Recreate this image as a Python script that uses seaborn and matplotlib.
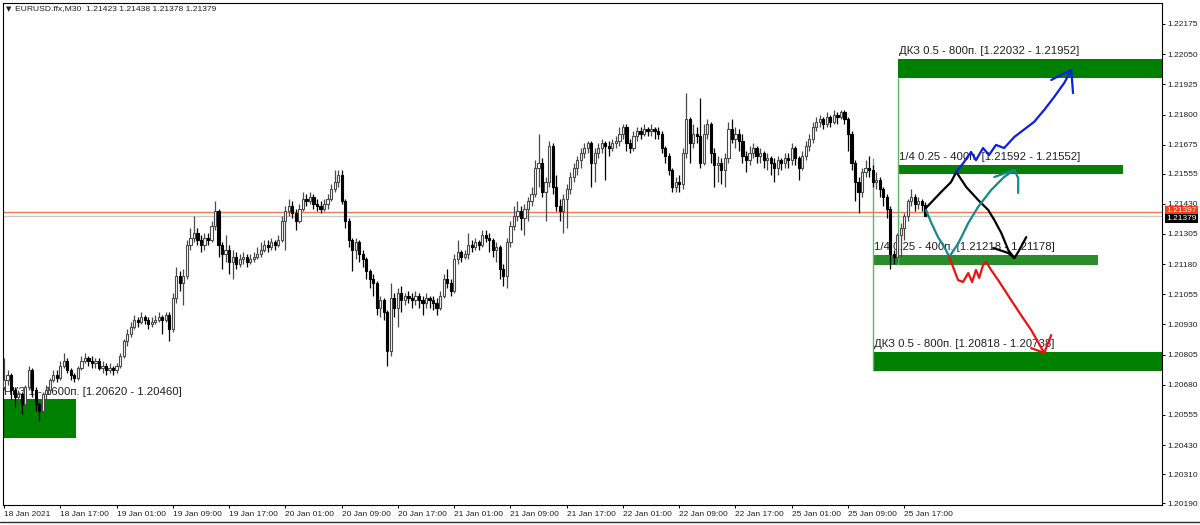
import matplotlib
matplotlib.use("Agg")
import numpy as np
import pandas as pd
import seaborn as sns
import matplotlib.pyplot as plt
from matplotlib.patches import Rectangle

# prices are kept in pips above 1.20000
BASE = 1.2
PIP = 0.0001

open_first = 67
close_pips = [
    70, 72, 66, 63, 64, 60, 67, 74, 66, 60,
    57, 64, 66, 70, 72, 71, 76, 78, 74, 72,
    71, 75, 78, 79, 78, 77, 78, 75, 76, 74,
    75, 74, 76, 80, 86, 89, 92, 95, 94, 96,
    95, 93, 94, 95, 96, 95, 97, 91, 104, 113,
    110, 113, 126, 129, 131, 128, 126, 129, 128, 134,
    140, 126, 122, 124, 119, 121, 118, 120, 121, 119,
    120, 121, 122, 124, 126, 125, 127, 126, 128, 136,
    140, 142, 139, 136, 141, 145, 144, 146, 143, 142,
    141, 143, 145, 149, 152, 155, 144, 136, 128, 124,
    127, 122, 120, 115, 112, 110, 100, 103, 98, 82,
    104, 100, 106, 103, 105, 104, 103, 105, 103, 102,
    104, 103, 102, 100, 105, 112, 110, 107, 120, 123,
    121, 122, 126, 125, 127, 126, 130, 129, 128, 124,
    125, 116, 113, 127, 134, 138, 140, 137, 141, 144,
    147, 158, 160, 148, 152, 167, 150, 142, 140, 145,
    149, 154, 158, 161, 164, 166, 168, 160, 164, 166,
    168, 167, 166, 168, 169, 172, 175, 168, 166, 171,
    173, 172, 174, 173, 174, 173, 172, 166, 163, 157,
    150, 152, 151, 164, 178, 168, 172, 171, 160, 172,
    176, 164, 159, 160, 157, 162, 174, 170, 172, 169,
    163, 161, 164, 166, 163, 164, 161, 162, 160, 158,
    161, 160, 162, 161, 166, 162, 158, 163, 167, 170,
    175, 177, 178, 176, 179, 177, 180, 179, 181, 178,
    172, 160, 152, 148, 156, 158, 157, 152, 153, 149,
    146, 141, 122, 121, 130, 133, 138, 144, 146, 143,
    144, 142.3, 137.9,
]
high_pips = [
    79, 74, 73, 67, 66, 65, 68, 76, 75, 67,
    61, 65, 68, 71, 74, 74, 78, 81, 79, 75,
    73, 76, 80, 81, 80, 80, 79, 79, 78, 77,
    77, 76, 77, 81, 87, 91, 94, 97, 96, 98,
    97, 96, 96, 97, 98, 97, 98, 98, 106, 117,
    115, 116, 128, 133, 138, 133, 130, 131, 131, 136,
    144, 141, 127, 130, 126, 124, 123, 122, 123, 122,
    122, 123, 125, 127, 128, 128, 129, 128, 130, 138,
    142, 145, 144, 141, 143, 148, 147, 148, 147, 145,
    144, 145, 147, 151, 157, 157, 157, 145, 137, 129,
    129, 128, 124, 121, 116, 114, 111, 105, 104, 99,
    110, 106, 108, 109, 106, 107, 106, 107, 106, 105,
    106, 105, 105, 104, 107, 114, 116, 112, 122, 128,
    124, 124, 131, 128, 129, 128, 132, 132, 131, 129,
    127, 126, 118, 129, 136, 142, 144, 142, 143, 146,
    150, 161, 172, 162, 154, 169, 168, 155, 145, 147,
    151, 156, 160, 163, 166, 168, 169, 169, 166, 168,
    170, 169, 169, 170, 171, 175, 176, 176, 170, 173,
    175, 175, 176, 175, 176, 175, 175, 173, 167, 164,
    158, 154, 155, 166, 189, 179, 176, 175, 187, 176,
    178, 177, 166, 163, 162, 164, 177, 178, 175, 174,
    172, 165, 167, 168, 167, 166, 165, 164, 163, 162,
    163, 162, 164, 164, 168, 167, 163, 165, 169, 172,
    177, 179, 180, 179, 181, 180, 182, 181, 182, 182,
    179, 173, 161, 154, 158, 161, 163, 159, 156, 154,
    150, 147, 142, 124, 131, 135, 139, 145, 149, 147,
    146, 145, 143.8,
]
low_pips = [
    66, 68, 62, 59, 61, 56, 59, 66, 63, 57,
    53, 55, 62, 64, 69, 69, 70, 75, 73, 70,
    69, 70, 74, 77, 76, 75, 75, 74, 73, 72,
    73, 72, 73, 75, 79, 84, 88, 91, 92, 93,
    93, 91, 92, 93, 94, 89, 94, 86, 90, 102,
    107, 101, 112, 124, 127, 126, 123, 124, 126, 127,
    132, 121, 116, 119, 114, 112, 116, 117, 118, 117,
    118, 119, 120, 121, 123, 123, 124, 124, 125, 127,
    124, 138, 137, 132, 135, 140, 142, 143, 141, 140,
    139, 140, 141, 144, 148, 150, 143, 133, 125, 115,
    120, 119, 117, 112, 108, 105, 97, 96, 95, 76,
    80, 96, 92, 98, 101, 102, 100, 101, 100, 97,
    100, 100, 99, 97, 99, 104, 108, 105, 106, 118,
    119, 120, 120, 123, 124, 124, 125, 127, 123, 121,
    119, 112, 109, 108, 125, 132, 136, 132, 130, 136,
    142, 146, 150, 146, 136, 150, 147, 140, 136, 131,
    133, 147, 152, 155, 158, 162, 164, 150, 152, 162,
    164, 153, 163, 165, 166, 167, 170, 165, 164, 165,
    169, 170, 171, 171, 171, 170, 170, 164, 160, 155,
    148, 148, 148, 149, 162, 160, 166, 168, 158, 159,
    170, 160, 150, 152, 151, 150, 160, 168, 166, 165,
    160, 156, 159, 162, 160, 160, 158, 157, 155, 152,
    155, 157, 158, 158, 159, 159, 153, 157, 161, 165,
    168, 173, 175, 174, 175, 175, 176, 176, 178, 176,
    165, 157, 144, 139, 146, 154, 154, 150, 149, 146,
    142, 137, 116, 118, 119, 121, 128, 136, 142, 140,
    141, 140, 137.8,
]

time_labels = [
    "18 Jan 2021", "18 Jan 17:00", "19 Jan 01:00", "19 Jan 09:00", "19 Jan 17:00",
    "20 Jan 01:00", "20 Jan 09:00", "20 Jan 17:00", "21 Jan 01:00", "21 Jan 09:00",
    "21 Jan 17:00", "22 Jan 01:00", "22 Jan 09:00", "22 Jan 17:00", "25 Jan 01:00",
    "25 Jan 09:00", "25 Jan 17:00",
]
bars_per_label = 16

price_ticks = [1.22175, 1.22050, 1.21925, 1.21800, 1.21675, 1.21555, 1.21430, 1.21305,
               1.21180, 1.21055, 1.20930, 1.20805, 1.20680, 1.20555, 1.20430, 1.20310,
               1.20190]

# zones drawn on the chart (left/right in bar numbers)
zone_text = ["НКЗ 1 - 1600п.", "ДКЗ 0.5 - 800п.", "1/4 0.25 - 400п.",
             "1/4 0.25 - 400п.", "ДКЗ 0.5 - 800п."]
zone_top = [1.20620, 1.22032, 1.21592, 1.21218, 1.20818]
zone_bottom = [1.20460, 1.21952, 1.21552, 1.21178, 1.20738]
zone_left = [-1.0, 254.3, 254.3, 247.2, 247.2]
zone_right = [20.5, 340.0, 318.3, 311.2, 340.0]
zone_colors = ["#008000", "#008000", "#087f08", "#2a8c2a", "#008000"]

guide_x = [254.3, 247.2]
guide_top = [1.21952, 1.21620]
guide_bottom = [1.21178, 1.20738]

ask_line = 1.21397
bid_line = 1.21379

# hand drawn scenario arrows, (bar, pips)
black_x = [262.2, 266.5, 269.3, 270.8, 273.6, 277.0, 279.9, 281.6, 283.6, 285.6, 287.3, 288.4, 290.7]
black_y = [141.3, 147.9, 152.0, 156.2, 150.0, 144.6, 140.4, 136.3, 130.9, 123.8, 120.5, 123.0, 129.2]
black_tail_x = [281.3, 285.6, 287.3]
black_tail_y = [124.7, 122.6, 120.5]
blue_x = [270.8, 272.8, 275.0, 276.4, 278.4, 280.1, 282.1, 284.4, 287.3, 292.9, 295.8, 298.6, 301.5, 303.5, 304.0]
blue_y = [156.2, 159.9, 164.5, 161.1, 166.1, 163.2, 167.4, 166.1, 170.7, 176.9, 181.9, 187.2, 193.1, 198.4, 188.9]
blue_head_x = [297.8, 300.6, 303.5]
blue_head_y = [194.3, 196.4, 198.4]
teal_x = [262.2, 263.6, 265.6, 267.4, 268.8, 271.4, 274.2, 277.0, 280.7, 284.4, 287.3, 288.4, 288.4]
teal_y = [140.4, 135.4, 129.2, 125.1, 121.0, 126.7, 135.0, 141.7, 148.7, 154.1, 157.0, 153.7, 147.5]
teal_head_x = [281.6, 287.3]
teal_head_y = [154.1, 157.0]
red_x = [268.8, 270.2, 271.3, 272.7, 274.2, 275.3, 276.4, 277.3, 278.4, 279.3, 280.7, 282.7,
         286.4, 289.2, 292.1, 295.8, 297.8]
red_y = [121.0, 115.6, 111.4, 110.6, 114.3, 110.6, 115.6, 112.3, 117.6, 118.9, 115.6, 111.4,
         103.1, 96.9, 90.7, 81.2, 88.6]
red_head_x = [292.1, 295.8]
red_head_y = [83.2, 81.2]


def to_price(p):
    return BASE + np.asarray(p, dtype=float) * PIP


sns.set_theme(style="white")
plt.rcParams["font.family"] = ["Liberation Sans", "DejaVu Sans"]

df = pd.DataFrame({"close": to_price(close_pips), "high": to_price(high_pips),
                   "low": to_price(low_pips)})
df["open"] = df["close"].shift(1).fillna(to_price(open_first))
df["high"] = df[["high", "open", "close"]].max(axis=1)
df["low"] = df[["low", "open", "close"]].min(axis=1)
df["bar"] = np.arange(len(df))
bull = df["close"] >= df["open"]

fig = plt.figure(figsize=(12, 5.25), dpi=100)
ax = fig.add_axes([3 / 1200, 1 - 505 / 525, 1159 / 1200, 502 / 525])
ax.set_facecolor("white")

# horizontal price lines
ax.axhline(ask_line, color="#f47a52", lw=1.0, zorder=1)
ax.axhline(bid_line, color="#c8c8c8", lw=1.0, zorder=1)

# zones
for txt, top, bot, left, right, col in zip(zone_text, zone_top, zone_bottom,
                                           zone_left, zone_right, zone_colors):
    ax.add_patch(Rectangle((left, bot), right - left, top - bot, color=col, lw=0, zorder=2))
    ax.annotate(f"{txt} [{top:.5f} - {bot:.5f}]", xy=(max(left, -0.3), top),
                xytext=(0.5, 2), textcoords="offset points", fontsize=8.2,
                color="#202020", ha="left", va="bottom", zorder=2.5)
for gx, gt, gb in zip(guide_x, guide_top, guide_bottom):
    ax.vlines(gx, gb, gt, color="#5cb85c", lw=1.0, zorder=2)

# candles
up, dn = df[bull], df[~bull]
ax.vlines(up["bar"], up["low"], up["high"], color="#4a4a4a", lw=0.9, zorder=3)
ax.vlines(dn["bar"], dn["low"], dn["high"], color="black", lw=0.9, zorder=3)
body = (df["close"] - df["open"]).abs().clip(lower=0.000025)
ax.bar(up["bar"], body[bull], bottom=up["open"], width=0.62, color="white",
       edgecolor="#4a4a4a", lw=0.8, zorder=4)
ax.bar(dn["bar"], body[~bull], bottom=dn["close"], width=0.62, color="black",
       edgecolor="black", lw=0.8, zorder=4)

# scenario strokes
strokes = [
    (black_x, black_y, "black"), (black_tail_x, black_tail_y, "black"),
    (blue_x, blue_y, "#0a1ee6"), (blue_head_x, blue_head_y, "#0a1ee6"),
    (teal_x, teal_y, "#138a8a"), (teal_head_x, teal_head_y, "#138a8a"),
    (red_x, red_y, "#ee1010"), (red_head_x, red_head_y, "#ee1010"),
]
for sx, sy, col in strokes:
    sns.lineplot(x=sx, y=to_price(sy), sort=False, estimator=None, color=col,
                 lw=1.6, ax=ax, zorder=7)

ax.set_xlim(-0.3, 329.3)
ax.set_ylim(1.20182, 1.22262)

ax.yaxis.tick_right()
ax.set_yticks(price_ticks)
ax.set_yticklabels([f"{t:.5f}" for t in price_ticks], fontsize=6.0, color="#202020")
ax.set_xticks(np.arange(len(time_labels)) * bars_per_label)
ax.set_xticklabels(time_labels, fontsize=6.0, color="#202020", ha="left")
ax.tick_params(axis="both", which="both", direction="out", length=2.5, width=0.7,
               color="black", bottom=True, right=True, left=False, top=False, pad=1.5)
ax.set_xlabel("")
ax.set_ylabel("")
for s in ax.spines.values():
    s.set_visible(True)
    s.set_color("black")
    s.set_linewidth(0.8)

# price tags on the right scale
ax.annotate(f"{ask_line:.5f}", xy=(1.0, ask_line), xycoords=("axes fraction", "data"),
            xytext=(3, 1), textcoords="offset points", fontsize=6.0, color="white",
            va="center", ha="left", zorder=8, annotation_clip=False,
            bbox=dict(boxstyle="square,pad=0.12", fc="#f0401a", ec="none"))
ax.annotate(f"{bid_line:.5f}", xy=(1.0, bid_line), xycoords=("axes fraction", "data"),
            xytext=(3, -2), textcoords="offset points", fontsize=6.0, color="white",
            va="center", ha="left", zorder=9, annotation_clip=False,
            bbox=dict(boxstyle="square,pad=0.12", fc="black", ec="none"))

fig.text(6 / 1200, 1 - 9 / 525, "▼", fontsize=5, color="#202020", va="center", ha="left",
         family=["DejaVu Sans"])
fig.text(15 / 1200, 1 - 9 / 525, "EURUSD.ffx,M30  1.21423 1.21438 1.21378 1.21379",
         fontsize=6.1, color="#202020", va="center", ha="left")
fig.add_artist(plt.Line2D([0, 1], [1 - 522 / 525, 1 - 522 / 525], color="#303030", lw=1.0))

fig.savefig("out.png", dpi=100, facecolor="white")
